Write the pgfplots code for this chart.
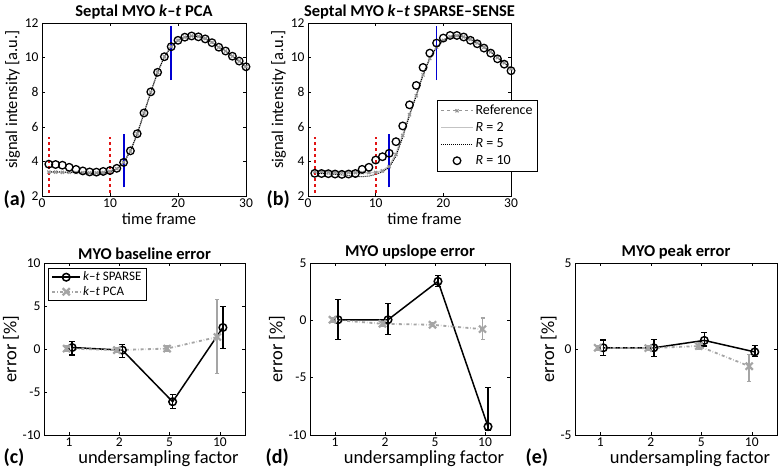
\documentclass[border=0pt]{standalone}
\usepackage{fontspec}
\setmainfont{Carlito}
\usepackage{pgfplots}
\pgfplotsset{compat=1.18}

\definecolor{refgray}{RGB}{150,150,150}
\definecolor{lgray}{RGB}{195,195,195}
\definecolor{pcagray}{RGB}{165,165,165}
\definecolor{mblue}{RGB}{0,0,210}
\definecolor{mred}{RGB}{225,20,20}

\pgfplotsset{
  myax/.style={
    scale only axis,
    /pgf/number format/assume math mode=true,
    tick label style={font=\fontsize{13.5}{13.5}\selectfont},
    title style={font=\fontsize{16.5}{16.5}\selectfont\bfseries, yshift=-6pt},
    axis line style={line width=0.6pt},
    tick style={black, line width=0.5pt},
    major tick length=3pt,
    xticklabel style={yshift=1pt},
  },
  topax/.style={myax, width=204pt, height=173pt,
    xmin=0, xmax=30, ymin=2, ymax=12,
    xtick={0,10,20,30}, ytick={2,4,...,12},
    label style={font=\fontsize{16.5}{16.5}\selectfont},
    xlabel={time frame}, ylabel={signal intensity [a.u.]},
    xlabel style={yshift=1.5pt, xshift=15pt},
    ylabel style={yshift=-2pt, xshift=10pt}},
  botax/.style={myax, width=201pt, height=172pt,
    xmin=0.5, xmax=4.5, xtick={1,2,3,4}, xticklabels={1,2,5,10},
    label style={font=\fontsize{18.5}{18.5}\selectfont},
    xlabel={undersampling factor}, ylabel={error [\%]},
    xlabel style={yshift=3pt, xshift=14pt}, ylabel style={yshift=-3pt}},
  refline/.style={refgray, dashed, line width=1.2pt, mark=x, mark size=2.2pt, mark options={solid}},
  rtwo/.style={lgray, line width=1.2pt, no markers},
  rfive/.style={black, densely dotted, line width=1pt, no markers},
  rten/.style={only marks, mark=o, mark size=3.8pt, mark options={black, line width=1.3pt}},
  sparse/.style={black, line width=1.5pt, mark=o, mark size=3.8pt,
    error bars/.cd, y dir=both, y explicit,
    error bar style={black, line width=1.5pt},
    error mark options={black, mark size=3pt, line width=1.2pt, rotate=90}},
  pca/.style={pcagray, dash dot, line width=1.8pt, mark=x, mark size=5pt, mark options={solid, line width=2.2pt},
    error bars/.cd, y dir=both, y explicit,
    error bar style={pcagray, line width=1.8pt, solid},
    error mark options={pcagray, mark size=2pt, line width=1.2pt, rotate=90}},
}

\begin{document}
\begin{tikzpicture}
\path[use as bounding box] (0pt,0pt) rectangle (778pt,-473pt);

% (a)
\begin{axis}[topax, at={(42pt,-196pt)}, anchor=south west,
  title={Septal MYO \textit{k}\textendash\textit{t} PCA}]
\addplot[refline] coordinates {
(1,3.38)(2,3.38)(3,3.37)(4,3.37)(5,3.36)(6,3.35)(7,3.34)(8,3.34)(9,3.36)(10,3.42)
(11,3.58)(12,3.95)(13,4.6)(14,5.6)(15,6.8)(16,8.0)(17,9.15)(18,10.05)(19,10.63)(20,11.0)
(21,11.18)(22,11.25)(23,11.22)(24,11.1)(25,10.88)(26,10.6)(27,10.38)(28,10.08)(29,9.8)(30,9.47)};
\addplot[rtwo] coordinates {
(1,3.37)(2,3.37)(3,3.36)(4,3.36)(5,3.35)(6,3.34)(7,3.33)(8,3.33)(9,3.35)(10,3.41)
(11,3.57)(12,3.94)(13,4.6)(14,5.6)(15,6.8)(16,8.0)(17,9.15)(18,10.05)(19,10.63)(20,11.0)
(21,11.18)(22,11.25)(23,11.22)(24,11.1)(25,10.88)(26,10.6)(27,10.38)(28,10.08)(29,9.8)(30,9.47)};
\addplot[rfive] coordinates {
(1,3.4)(2,3.4)(3,3.39)(4,3.38)(5,3.36)(6,3.33)(7,3.31)(8,3.31)(9,3.33)(10,3.4)
(11,3.56)(12,3.93)(13,4.58)(14,5.58)(15,6.78)(16,8.0)(17,9.15)(18,10.05)(19,10.63)(20,11.0)
(21,11.18)(22,11.25)(23,11.22)(24,11.1)(25,10.88)(26,10.6)(27,10.38)(28,10.08)(29,9.8)(30,9.47)};
\addplot[rten] coordinates {
(1,3.84)(2,3.82)(3,3.78)(4,3.66)(5,3.54)(6,3.45)(7,3.39)(8,3.38)(9,3.42)(10,3.47)
(11,3.6)(12,3.94)(13,4.61)(14,5.6)(15,6.8)(16,8.02)(17,9.15)(18,10.05)(19,10.63)(20,11.0)
(21,11.18)(22,11.25)(23,11.2)(24,11.08)(25,10.86)(26,10.6)(27,10.38)(28,10.08)(29,9.8)(30,9.47)};
\addplot[mred, dashed, line width=1.8pt, forget plot] coordinates {(1,2.2)(1,5.4)};
\addplot[mred, dashed, line width=1.8pt, forget plot] coordinates {(10,2.2)(10,5.4)};
\addplot[mblue, solid, line width=1.8pt, forget plot] coordinates {(12,2.5)(12,5.6)};
\addplot[mblue, solid, line width=1.8pt, forget plot] coordinates {(19,8.7)(19,11.85)};
\end{axis}

% (b)
\begin{axis}[topax, at={(308pt,-196pt)}, anchor=south west, width=203pt,
  title={Septal MYO \textit{k}\textendash\textit{t} SPARSE\textendash SENSE},
  legend style={at={(0.636,0.555)}, anchor=north west, draw=black, line width=0.6pt,
    font=\fontsize{14}{14}\selectfont, row sep=2pt, inner xsep=3pt, inner ysep=3pt},
  legend image code/.code={\draw[mark repeat=2, mark phase=2, #1] plot coordinates {(0pt,0pt) (16pt,0pt) (32pt,0pt)};},
  legend cell align=left]
\addplot[refline] coordinates {
(1,3.4)(2,3.4)(3,3.38)(4,3.37)(5,3.37)(6,3.36)(7,3.35)(8,3.35)(9,3.35)(10,3.36)
(11,3.45)(12,3.7)(13,4.4)(14,5.5)(15,6.7)(16,7.8)(17,9.0)(18,9.95)(19,10.6)(20,11.0)
(21,11.2)(22,11.27)(23,11.2)(24,11.05)(25,10.85)(26,10.6)(27,10.33)(28,10.0)(29,9.7)(30,9.35)};
\addlegendentry{Reference}
\addplot[rtwo] coordinates {
(1,3.42)(2,3.41)(3,3.39)(4,3.38)(5,3.37)(6,3.36)(7,3.35)(8,3.34)(9,3.35)(10,3.37)
(11,3.47)(12,3.74)(13,4.45)(14,5.55)(15,6.75)(16,7.85)(17,9.05)(18,9.98)(19,10.62)(20,11.02)
(21,11.2)(22,11.26)(23,11.2)(24,11.05)(25,10.85)(26,10.6)(27,10.33)(28,10.0)(29,9.7)(30,9.35)};
\addlegendentry{\textit{R} = 2}
\addplot[rfive] coordinates {
(1,3.3)(2,3.3)(3,3.28)(4,3.25)(5,3.22)(6,3.18)(7,3.13)(8,3.12)(9,3.15)(10,3.25)
(11,3.4)(12,3.65)(13,4.3)(14,5.4)(15,6.65)(16,7.8)(17,9.0)(18,9.95)(19,10.6)(20,11.0)
(21,11.2)(22,11.27)(23,11.2)(24,11.05)(25,10.85)(26,10.6)(27,10.33)(28,10.0)(29,9.7)(30,9.35)};
\addlegendentry{\textit{R} = 5}
\addplot[rten] coordinates {
(1,3.31)(2,3.3)(3,3.29)(4,3.27)(5,3.25)(6,3.27)(7,3.3)(8,3.54)(9,3.66)(10,4.08)
(11,4.27)(12,4.47)(13,5.14)(14,6.05)(15,7.27)(16,8.39)(17,9.43)(18,10.26)(19,10.84)(20,11.13)
(21,11.28)(22,11.28)(23,11.19)(24,11.0)(25,10.8)(26,10.55)(27,10.26)(28,9.93)(29,9.62)(30,9.24)};
\addlegendentry{\textit{R} = 10}
\addplot[mred, dashed, line width=1.8pt, forget plot] coordinates {(1,2.2)(1,5.4)};
\addplot[mred, dashed, line width=1.8pt, forget plot] coordinates {(10,2.2)(10,5.4)};
\addplot[mblue, solid, line width=1.8pt, forget plot] coordinates {(12,2.5)(12,5.6)};
\addplot[mblue, solid, line width=1.8pt, forget plot] coordinates {(19,8.7)(19,11.85)};
\end{axis}

% (c)
\begin{axis}[botax, at={(44pt,-435pt)}, anchor=south west,
  ymin=-10, ymax=10, ytick={-10,-5,0,5,10},
  title={MYO baseline error},
  legend style={at={(0.02,0.97)}, anchor=north west, draw=black, line width=0.6pt,
    font=\fontsize{13}{13}\selectfont, row sep=0pt, inner xsep=3pt, inner ysep=1.5pt},
  legend image code/.code={\draw[mark repeat=2, mark phase=2, #1] plot coordinates {(0pt,0pt) (14pt,0pt) (28pt,0pt)};},
  legend cell align=left]
\addplot[sparse] coordinates {
(1.06,0.17) += (0,0.67) -= (0,0.87)
(2.06,-0.13) += (0,0.69) -= (0,0.87)
(3.06,-6.13) += (0,0.88) -= (0,0.77)
(4.06,2.5) += (0,2.4) -= (0,2.4)};
\addlegendentry{\textit{k}\textendash\textit{t} SPARSE}
\addplot[pca] coordinates {
(0.95,0.05) += (0,0.3) -= (0,0.3)
(1.95,-0.13) += (0,0.3) -= (0,0.3)
(2.95,0.05) += (0,0.3) -= (0,0.3)
(3.95,1.4) += (0,4.35) -= (0,4.25)};
\addlegendentry{\textit{k}\textendash\textit{t} PCA}
\end{axis}

% (d)
\begin{axis}[botax, at={(310pt,-435pt)}, anchor=south west, width=200pt,
  ymin=-10, ymax=5, ytick={-10,-5,0,5},
  title={MYO upslope error}]
\addplot[sparse] coordinates {
(1.06,0.05) += (0,1.8) -= (0,1.75)
(2.06,0.05) += (0,1.39) -= (0,1.31)
(3.06,3.4) += (0,0.52) -= (0,0.44)
(4.06,-9.27) += (0,3.44) -= (0,0.29)};
\addplot[pca] coordinates {
(0.95,0.05) += (0,0.2) -= (0,0.2)
(1.95,-0.3) += (0,0.2) -= (0,0.2)
(2.95,-0.39) += (0,0.15) -= (0,0.15)
(3.95,-0.77) += (0,0.97) -= (0,0.93)};
\end{axis}

% (e)
\begin{axis}[botax, at={(575pt,-435pt)}, anchor=south west, width=202pt,
  ymin=-5, ymax=5, ytick={-5,0,5},
  title={MYO peak error}]
\addplot[sparse] coordinates {
(1.06,0.07) += (0,0.45) -= (0,0.45)
(2.06,0.07) += (0,0.48) -= (0,0.49)
(3.06,0.5) += (0,0.45) -= (0,0.33)
(4.06,-0.17) += (0,0.37) -= (0,0.25)};
\addplot[pca] coordinates {
(0.95,0.07) += (0,0.15) -= (0,0.15)
(1.95,0.05) += (0,0.15) -= (0,0.15)
(2.95,0.17) += (0,0.2) -= (0,0.2)
(3.95,-1.0) += (0,0.68) -= (0,0.88)};
\end{axis}

\node[anchor=west, font=\fontsize{20}{20}\selectfont\bfseries] at (0pt,-200pt) {(a)};
\node[anchor=west, font=\fontsize{20}{20}\selectfont\bfseries] at (263pt,-200pt) {(b)};
\node[anchor=west, font=\fontsize{20}{20}\selectfont\bfseries] at (0pt,-458pt) {(c)};
\node[anchor=west, font=\fontsize{20}{20}\selectfont\bfseries] at (262pt,-458pt) {(d)};
\node[anchor=west, font=\fontsize{20}{20}\selectfont\bfseries] at (522pt,-458pt) {(e)};
\end{tikzpicture}
\end{document}
